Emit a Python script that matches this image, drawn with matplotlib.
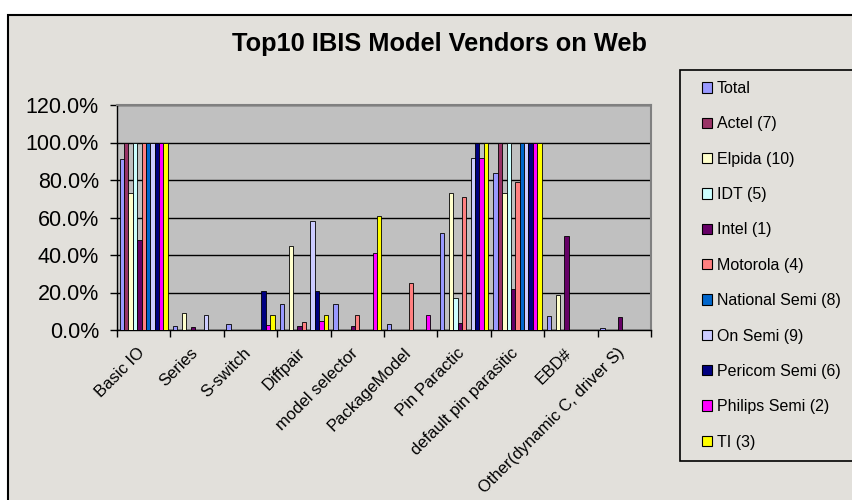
import matplotlib
matplotlib.use("Agg")
import matplotlib.pyplot as plt
import matplotlib.transforms as mtransforms
import numpy as np
from matplotlib.patches import Rectangle, Patch
from matplotlib.ticker import FuncFormatter, FixedLocator

plt.rcParams['font.family'] = ['Liberation Sans', 'DejaVu Sans']

categories = ['Basic IO', 'Series', 'S-switch', 'Diffpair', 'model selector',
              'PackageModel', 'Pin Paractic', 'default pin parasitic', 'EBD#',
              'Other(dynamic C, driver S)']

series_names = ['Total', 'Actel (7)', 'Elpida (10)', 'IDT (5)', 'Intel (1)',
                'Motorola (4)', 'National Semi (8)', 'On Semi (9)',
                'Pericom Semi (6)', 'Philips Semi (2)', 'TI (3)']

total    = [0.91, 0.02, 0.03, 0.14, 0.14, 0.03, 0.516, 0.84, 0.073, 0.012]
actel    = [1.00, 0.00, 0.00, 0.00, 0.00, 0.00, 0.00, 1.00, 0.00, 0.00]
elpida   = [0.73, 0.09, 0.00, 0.45, 0.00, 0.00, 0.73, 0.73, 0.185, 0.00]
idt      = [1.00, 0.00, 0.00, 0.00, 0.00, 0.00, 0.17, 1.00, 0.00, 0.00]
intel    = [0.48, 0.015, 0.00, 0.02, 0.02, 0.00, 0.04, 0.22, 0.50, 0.07]
motorola = [1.00, 0.00, 0.00, 0.045, 0.08, 0.25, 0.71, 0.79, 0.00, 0.00]
national = [1.00, 0.00, 0.00, 0.00, 0.00, 0.00, 0.00, 1.00, 0.00, 0.00]
onsemi   = [1.00, 0.08, 0.00, 0.58, 0.00, 0.00, 0.92, 1.00, 0.00, 0.00]
pericom  = [1.00, 0.00, 0.21, 0.21, 0.00, 0.00, 1.00, 1.00, 0.00, 0.00]
philips  = [1.00, 0.00, 0.028, 0.05, 0.41, 0.08, 0.92, 1.00, 0.00, 0.00]
ti       = [1.00, 0.00, 0.08, 0.08, 0.61, 0.00, 1.00, 1.00, 0.00, 0.00]

series_values = [total, actel, elpida, idt, intel, motorola, national,
                 onsemi, pericom, philips, ti]
colors = ['#9999FF', '#993366', '#FFFFCC', '#CCFFFF', '#660066', '#FF8080',
          '#0066CC', '#CCCCFF', '#000080', '#FF00FF', '#FFFF00']

W, H = 852, 500
BG = '#E2E0DB'
fig = plt.figure(figsize=(W / 100, H / 100), dpi=100, facecolor='white')


def px(x0, y0, w, h):
    """figure-fraction rectangle from pixel coords (top-left origin)"""
    return (x0 / W, 1 - (y0 + h) / H), w / W, h / H


# outer chart area border
xy, w, h = px(8, 15, W + 20, H)
fig.patches.append(Rectangle(xy, w, h, transform=fig.transFigure,
                             facecolor=BG, edgecolor='black', linewidth=1.5,
                             zorder=-10))
# legend frame
xy, w, h = px(680, 70, 200, 390.5)
fig.patches.append(Rectangle(xy, w, h, transform=fig.transFigure,
                             facecolor=BG, edgecolor='black', linewidth=1.2,
                             zorder=-5))

ax = fig.add_axes([117 / W, (H - 330) / H, (651 - 117) / W, (330 - 105) / H])
ax.set_facecolor('#C0C0C0')

n = len(series_values)
group = 0.9
bw = group / n
x = np.arange(len(categories))
for i, (vals, c) in enumerate(zip(series_values, colors)):
    ax.bar(x - group / 2 + bw * (i + 0.5), vals, width=bw, color=c,
           edgecolor='black', linewidth=0.6, zorder=3)

ax.set_xlim(-0.5, len(categories) - 0.5)
ax.set_ylim(0, 1.2)
ax.set_yticks(np.arange(0, 1.21, 0.2))
ax.yaxis.set_major_formatter(FuncFormatter(lambda v, p: f"{v * 100:.1f}%"))
ax.yaxis.grid(True, color='black', linewidth=1.0, zorder=1)
ax.set_axisbelow(True)
ax.tick_params(axis='y', direction='out', length=5, width=1, labelsize=15.5,
               pad=8, colors='black')

ax.set_xticks(x)
ax.set_xticklabels(categories, rotation=45, ha='right', rotation_mode='anchor',
                   fontsize=12)
ax.tick_params(axis='x', which='major', length=0, pad=11)
offset = mtransforms.ScaledTranslation(-7 / 100, 0, fig.dpi_scale_trans)
for lab in ax.get_xticklabels():
    lab.set_transform(lab.get_transform() + offset)
ax.xaxis.set_minor_locator(FixedLocator(np.arange(-0.5, len(categories), 1.0)))
ax.tick_params(axis='x', which='minor', direction='out', length=5, width=1)

for side in ['top', 'right']:
    ax.spines[side].set_color('#808080')
    ax.spines[side].set_linewidth(1.5)
for side in ['left', 'bottom']:
    ax.spines[side].set_color('black')
    ax.spines[side].set_linewidth(1.0)

fig.text(439 / W, 1 - 44 / H, 'Top10 IBIS Model Vendors on Web', ha='center',
         va='center', fontsize=18.3, fontweight='bold')

handles = [Patch(facecolor=c, edgecolor='black', linewidth=0.8) for c in colors]
leg = fig.legend(handles, series_names, loc='upper left',
                 bbox_to_anchor=(702 / W, 1 - 81 / H), fontsize=11.5,
                 frameon=False, handlelength=0.62, handleheight=0.62,
                 handletextpad=0.32, labelspacing=1.275,
                 borderpad=0, borderaxespad=0)

fig.savefig('out.png', dpi=100, facecolor='white')
